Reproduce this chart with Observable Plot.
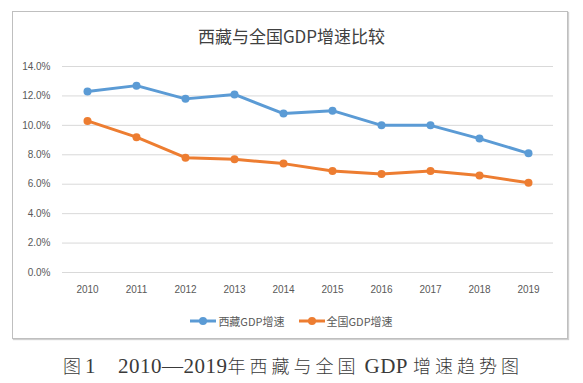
<!DOCTYPE html>
<html>
<head>
<meta charset="utf-8">
<script src="https://cdn.jsdelivr.net/npm/d3@7"></script>
<script src="https://cdn.jsdelivr.net/npm/@observablehq/plot@0.6"></script>
<style>
  html, body { margin: 0; padding: 0; background: #fff; }
  #wrap { position: relative; width: 583px; height: 383px; overflow: hidden; font-family: "Noto Sans CJK SC", "Noto Sans", sans-serif; }
  #box { position: absolute; left: 12px; top: 11px; width: 554px; height: 326px; border: 1px solid #bfbfbf; box-shadow: 1px 1px 1px #d0d0d0; }
  #title { position: absolute; left: 0; width: 583px; top: 24px; text-align: center; font-size: 17px; color: #404040; line-height: 24px; }
  #chart { position: absolute; left: 0; top: 50px; }
  #legend { position: absolute; left: 0; width: 583px; top: 312px; display: flex; justify-content: center; align-items: center; font-size: 11px; color: #595959; line-height: 18px; }
  #legend .item { display: flex; align-items: center; margin: 0 7px; }
  #legend svg { margin-right: 2px; }
  #caption { position: absolute; left: 63px; top: 352px; color: #3a3a3a; line-height: 26px; white-space: pre; display: flex; align-items: baseline; }
  #caption .cjk { font-family: "Noto Sans CJK SC", sans-serif; font-size: 18px; letter-spacing: 4px; font-weight: 300; }
  #caption .lat { font-family: "Liberation Serif", "DejaVu Serif", serif; font-size: 21px; letter-spacing: 0.5px; }
</style>
</head>
<body>
<div id="wrap">
  <div id="box"></div>
  <div id="title"></div>
  <div id="chart"></div>
  <div id="legend"></div>
  <div id="caption"></div>
</div>
<script>
const titleText = "西藏与全国GDP增速比较";
// caption pieces: [text, kind, extra right margin]
const captionParts = [
  ["图", "cjk", 0],
  ["1", "lat", 22],
  ["2010—2019", "lat", 0],
  ["年西藏与全国", "cjk", 5],
  ["GDP", "lat", 5],
  ["增速趋势图", "cjk", 0]
];
const years = ["2010","2011","2012","2013","2014","2015","2016","2017","2018","2019"];
const seriesNames = ["西藏GDP增速", "全国GDP增速"];
const seriesColors = ["#5B9BD5", "#ED7D31"];
const tibet = [12.3, 12.7, 11.8, 12.1, 10.8, 11.0, 10.0, 10.0, 9.1, 8.1];
const national = [10.3, 9.2, 7.8, 7.7, 7.4, 6.9, 6.7, 6.9, 6.6, 6.1];
const yTicks = [0, 2, 4, 6, 8, 10, 12, 14];

const rows = [];
years.forEach((y, i) => {
  rows.push({year: y, value: tibet[i], series: seriesNames[0]});
  rows.push({year: y, value: national[i], series: seriesNames[1]});
});

const chart = Plot.plot({
  width: 583,
  height: 250,
  marginLeft: 62,
  marginRight: 30,
  marginTop: 16,
  marginBottom: 28,
  style: { fontFamily: "'Liberation Sans', 'Open Sans', sans-serif", fontSize: "10px", color: "#595959", background: "transparent" },
  x: { type: "point", domain: years, padding: 0.5, label: null },
  y: { domain: [0, 14], label: null },
  color: { domain: seriesNames, range: seriesColors },
  marks: [
    Plot.gridY(yTicks, { stroke: "#d9d9d9", strokeOpacity: 1, strokeWidth: 1 }),
    Plot.axisY(yTicks, { tickSize: 0, tickPadding: 12, tickFormat: d => d.toFixed(1) + "%", fill: "#595959", fontSize: 10 }),
    Plot.axisX({ tickSize: 0, tickPadding: 13, fill: "#595959", fontSize: 10 }),
    Plot.lineY(rows, { x: "year", y: "value", z: "series", stroke: "series", strokeWidth: 3 }),
    Plot.dot(rows, { x: "year", y: "value", fill: "series", r: 4 })
  ]
});
document.getElementById("chart").appendChild(chart);

document.getElementById("title").textContent = titleText;

const cap = document.getElementById("caption");
captionParts.forEach(([t, kind, mr]) => {
  const s = document.createElement("span");
  s.className = kind;
  s.textContent = t;
  s.style.marginRight = mr + "px";
  cap.appendChild(s);
});

const legend = document.getElementById("legend");
seriesNames.forEach((name, i) => {
  const item = document.createElement("div");
  item.className = "item";
  item.innerHTML = `<svg width="26" height="10"><line x1="0" y1="5" x2="26" y2="5" stroke="${seriesColors[i]}" stroke-width="3"/><circle cx="13" cy="5" r="4" fill="${seriesColors[i]}"/></svg><span>${name}</span>`;
  legend.appendChild(item);
});
</script>
</body>
</html>
